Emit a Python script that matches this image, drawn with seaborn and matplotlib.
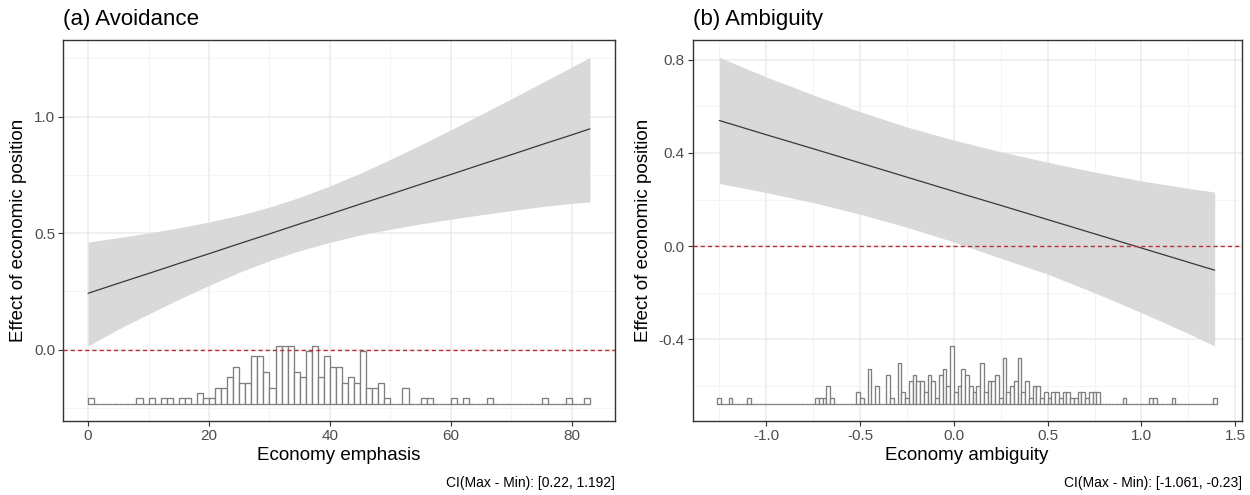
import numpy as np
import matplotlib
matplotlib.use("Agg")
import matplotlib.pyplot as plt
import seaborn as sns

# ---- (a) Avoidance: marginal effect across economy emphasis ----
emph_x = [0, 5, 10, 15, 20, 25, 30, 35, 40, 45, 50, 55, 60, 65, 70, 75, 80, 83]
emph_est = [0.242, 0.285, 0.327, 0.370, 0.412, 0.455, 0.497, 0.540, 0.582,
            0.625, 0.667, 0.710, 0.752, 0.795, 0.837, 0.880, 0.922, 0.948]
emph_lo = [0.016, 0.088, 0.153, 0.216, 0.276, 0.332, 0.382, 0.425, 0.461,
           0.492, 0.517, 0.540, 0.560, 0.579, 0.597, 0.614, 0.628, 0.634]
emph_hi = [0.462, 0.481, 0.501, 0.523, 0.548, 0.577, 0.612, 0.654, 0.703,
           0.757, 0.817, 0.879, 0.944, 1.010, 1.077, 1.145, 1.213, 1.255]
emph_bin_start = 0.0
emph_bin_width = 1.0
emph_counts = [1, 0, 0, 0, 0, 0, 0, 0, 1, 0,
               1, 0, 1, 1, 0, 1, 1, 0, 2, 1,
               1, 3, 3, 5, 7, 4, 4, 9, 9, 6,
               3, 11, 11, 11, 6, 5, 10, 11, 5, 9,
               7, 7, 4, 5, 4, 10, 3, 3, 4, 1,
               0, 0, 3, 0, 0, 1, 1, 0, 0, 0,
               1, 0, 1, 0, 0, 0, 1, 0, 0, 0,
               0, 0, 0, 0, 0, 1, 0, 0, 0, 1,
               0, 0, 1]
emph_xticks = [0, 20, 40, 60, 80]
emph_xtick_labels = ["0", "20", "40", "60", "80"]
emph_xminor = [10, 30, 50, 70]
emph_yticks = [0.0, 0.5, 1.0]
emph_ytick_labels = ["0.0", "0.5", "1.0"]
emph_yminor = [-0.25, 0.25, 0.75, 1.25]

# ---- (b) Ambiguity: marginal effect across economy ambiguity ----
amb_x = [-1.25, -1.0, -0.75, -0.5, -0.25, 0.0, 0.25, 0.5, 0.75, 1.0, 1.25, 1.39]
amb_est = [0.539, 0.478, 0.418, 0.357, 0.296, 0.235, 0.175, 0.114, 0.053,
           -0.008, -0.069, -0.103]
amb_lo = [0.269, 0.230, 0.187, 0.137, 0.081, 0.018, -0.052, -0.120, -0.200,
          -0.285, -0.375, -0.428]
amb_hi = [0.810, 0.726, 0.649, 0.577, 0.511, 0.455, 0.405, 0.360, 0.318,
          0.280, 0.248, 0.232]
amb_bin_start = -1.26
amb_bin_width = 0.02
amb_counts = [1, 0, 0, 1, 0, 0, 0, 0, 1,
              0, 0, 0, 0, 0, 0, 0, 0, 0, 0, 0, 0, 0, 0, 0, 0, 0,
              1, 1, 1, 3, 1,
              0, 0, 0, 0, 0, 0,
              2, 1, 0, 6, 0, 3, 0, 0, 5, 1,
              0, 7, 2, 1, 4, 5, 4, 4, 2, 5,
              4, 1, 5, 6, 3, 10, 2, 3, 6, 5,
              3, 2, 3, 7, 2, 4, 4, 5, 1, 8,
              2, 3, 4, 8, 2, 4, 1, 3, 3, 1,
              2, 1, 2, 2, 1, 2, 2, 1, 1, 2,
              2, 1, 2, 2, 2,
              0, 0, 0, 0, 0, 0,
              1,
              0, 0, 0, 0, 0, 0,
              1, 1,
              0, 0, 0, 0,
              1,
              0, 0, 0, 0, 0, 0, 0, 0, 0, 0,
              1]
amb_xticks = [-1.0, -0.5, 0.0, 0.5, 1.0, 1.5]
amb_xtick_labels = ["-1.0", "-0.5", "0.0", "0.5", "1.0", "1.5"]
amb_xminor = [-1.25, -0.75, -0.25, 0.25, 0.75, 1.25]
amb_yticks = [-0.4, 0.0, 0.4, 0.8]
amb_ytick_labels = ["-0.4", "0.0", "0.4", "0.8"]
amb_yminor = [-0.6, -0.2, 0.2, 0.6]

sns.set_theme(style="whitegrid")
plt.rcParams["font.family"] = ["Liberation Sans", "DejaVu Sans"]
plt.rcParams["axes.unicode_minus"] = False

W, H = 1250, 495
fig = plt.figure(figsize=(W / 100, H / 100), dpi=100)
fig.patch.set_facecolor("white")


def panel(rect, x, est, lo, hi, bin_start, bin_width, counts,
          xt, xtl, xmin_, yt, ytl, ymin_, title, xlabel, caption):
    left, right, top, bottom = rect
    ax = fig.add_axes([left / W, 1 - bottom / H, (right - left) / W, (bottom - top) / H])
    ax.set_facecolor("white")

    # confidence band and estimated effect
    ax.fill_between(x, lo, hi, color="#D9D9D9", linewidth=0, zorder=1)
    sns.lineplot(x=x, y=est, ax=ax, color="#383838", linewidth=0.9, zorder=2)

    # distribution of the moderator along the bottom
    span = max(hi) - min(lo)
    base = min(lo) - span / 5
    counts = np.asarray(counts, dtype=float)
    heights = counts / counts.max() * span / 5
    edges = bin_start + bin_width * np.arange(len(counts))
    ax.bar(edges, heights, width=bin_width, bottom=base, align="edge",
           facecolor="white", edgecolor="#7F7F7F", linewidth=0.95, zorder=3)

    ax.axhline(0, color="#BE3131", linestyle=(0, (3.0, 2.2)), linewidth=1.0, zorder=4)

    ax.use_sticky_edges = False
    ax.margins(0.05)
    ax.autoscale_view()

    ax.set_xticks(xt)
    ax.set_xticklabels(xtl)
    ax.set_xticks(xmin_, minor=True)
    ax.set_yticks(yt)
    ax.set_yticklabels(ytl)
    ax.set_yticks(ymin_, minor=True)
    ax.grid(True, which="major", color="#EBEBEB", linewidth=1.1, zorder=0)
    ax.grid(True, which="minor", color="#F2F2F2", linewidth=0.6, zorder=0)
    ax.set_axisbelow(True)
    ax.tick_params(which="major", length=3.5, width=0.8, color="#333333",
                   labelcolor="#4D4D4D", labelsize=11, pad=2,
                   bottom=True, left=True, direction="out")
    ax.tick_params(which="minor", length=0)
    for s in ax.spines.values():
        s.set_visible(True)
        s.set_color("#333333")
        s.set_linewidth(1.0)

    ax.set_title(title, loc="left", fontsize=16, color="black", pad=11)
    ax.set_xlabel(xlabel, fontsize=13.5, color="black", labelpad=3)
    ax.set_ylabel("Effect of economic position", fontsize=13.5, color="black", labelpad=5)
    fig.text(right / W, 1 - 483 / H, caption, ha="right", va="center",
             fontsize=10, color="black")
    return ax


panel((63, 615, 40, 421), emph_x, emph_est, emph_lo, emph_hi,
      emph_bin_start, emph_bin_width, emph_counts,
      emph_xticks, emph_xtick_labels, emph_xminor,
      emph_yticks, emph_ytick_labels, emph_yminor,
      "(a) Avoidance", "Economy emphasis", "CI(Max - Min): [0.22, 1.192]")

panel((692.5, 1241.5, 40, 421), amb_x, amb_est, amb_lo, amb_hi,
      amb_bin_start, amb_bin_width, amb_counts,
      amb_xticks, amb_xtick_labels, amb_xminor,
      amb_yticks, amb_ytick_labels, amb_yminor,
      "(b) Ambiguity", "Economy ambiguity", "CI(Max - Min): [-1.061, -0.23]")

fig.savefig("out.png", dpi=100, facecolor="white")
